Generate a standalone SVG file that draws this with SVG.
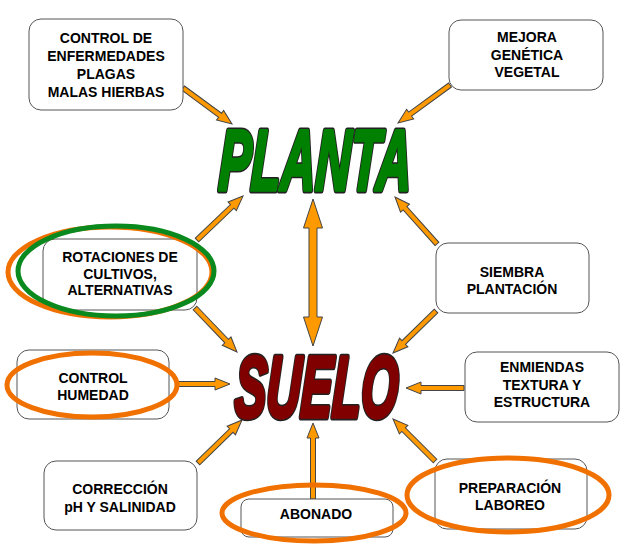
<svg xmlns="http://www.w3.org/2000/svg" width="640" height="545" viewBox="0 0 640 545">
<style>
.box{fill:#fff;stroke:#555;stroke-width:1}
.t{font-family:"Liberation Sans",Arial,sans-serif;font-weight:bold;font-size:14px;fill:#000;text-anchor:middle}
.arr{fill:#FF9900;stroke:#444;stroke-width:1}
.ro{fill:none;stroke:#F07000;stroke-width:5}
.rg{fill:none;stroke:#0A8A1E;stroke-width:5}
.big{font-family:"Liberation Sans",Arial,sans-serif;font-weight:bold;font-style:italic;stroke-linejoin:round;vector-effect:non-scaling-stroke}
.ol{fill:#222;stroke:#222;stroke-width:5.5}
</style>
<rect width="640" height="545" fill="#fff"/>
<g id="connectors">
<path class="arr" transform="translate(183,88) rotate(36.3)" d="M0,-2.5H46V-6L60.8,0L46,6V2.5H0Z"/>
<path class="arr" transform="translate(450,85) rotate(143.8)" d="M0,-2.5H49.4V-6L64.4,0L49.4,6V2.5H0Z"/>
<path class="arr" transform="translate(197,240) rotate(-43.7)" d="M0,-2.5H48.7V-6L63.7,0L48.7,6V2.5H0Z"/>
<path class="arr" transform="translate(195,308) rotate(46.3)" d="M0,-2.5H45.8V-6L60.8,0L45.8,6V2.5H0Z"/>
<path class="arr" d="M313,199L322.5,228H317V317H322.5L313,346L303.5,317H309V228H303.5Z"/>
<path class="arr" transform="translate(437,244) rotate(-131.8)" d="M0,-2.5H48V-6L63,0L48,6V2.5H0Z"/>
<path class="arr" transform="translate(436,311) rotate(135.7)" d="M0,-2.5H45.1V-6L60.1,0L45.1,6V2.5H0Z"/>
<path class="arr" transform="translate(177,384)" d="M0,-2.5H38V-6L53,0L38,6V2.5H0Z"/>
<path class="arr" transform="translate(464,388) rotate(180)" d="M0,-2.5H43V-6L58,0L43,6V2.5H0Z"/>
<path class="arr" transform="translate(198,463) rotate(-44.3)" d="M0,-2.5H46.5V-6L61.5,0L46.5,6V2.5H0Z"/>
<path class="arr" transform="translate(313,499) rotate(-90)" d="M0,-2.5H61V-6L76,0L61,6V2.5H0Z"/>
<path class="arr" transform="translate(435,461) rotate(-135)" d="M0,-2.5H44.4V-6L59.4,0L44.4,6V2.5H0Z"/>
</g>
<g id="planta" transform="translate(218,190) skewX(-2.5) scale(0.562,1)">
<text class="big ol" x="0" y="0" font-size="86">PLANTA</text>
<text class="big" x="0" y="0" font-size="86" fill="#008000" stroke="#008000" stroke-width="3">PLANTA</text>
</g>
<g id="suelo" transform="translate(234,417) skewX(-2.5) scale(0.544,1)">
<text class="big ol" x="0" y="0" font-size="87">SUELO</text>
<text class="big" x="0" y="0" font-size="87" fill="#800000" stroke="#800000" stroke-width="3">SUELO</text>
</g>
<g id="n-control-enf">
<rect class="box" x="29" y="19" width="154" height="91" rx="12" stroke="#333"/>
<text class="t" x="106" y="43">CONTROL DE</text>
<text class="t" x="106" y="61">ENFERMEDADES</text>
<text class="t" x="106" y="79">PLAGAS</text>
<text class="t" x="106" y="97">MALAS HIERBAS</text>
</g>
<g id="n-mejora">
<rect class="box" x="449" y="20" width="154" height="70" rx="12" stroke="#333"/>
<text class="t" x="527" y="42">MEJORA</text>
<text class="t" x="527" y="60">GENÉTICA</text>
<text class="t" x="527" y="77">VEGETAL</text>
</g>
<g id="n-rotaciones">
<rect class="box" x="43" y="239" width="154" height="71" rx="12"/>
<text class="t" x="120" y="262">ROTACIONES DE</text>
<text class="t" x="120" y="279">CULTIVOS,</text>
<text class="t" x="120" y="295">ALTERNATIVAS</text>
<ellipse class="ro" cx="110" cy="272" rx="102" ry="45"/>
<ellipse class="rg" cx="116" cy="271" rx="98" ry="45"/>
</g>
<g id="n-humedad">
<rect class="box" x="17" y="350" width="152" height="69" rx="12"/>
<text class="t" x="93" y="383">CONTROL</text>
<text class="t" x="93" y="400">HUMEDAD</text>
<ellipse class="ro" cx="92" cy="385" rx="85" ry="32"/>
</g>
<g id="n-siembra">
<rect class="box" x="436" y="243" width="153" height="70" rx="12"/>
<text class="t" x="512" y="277">SIEMBRA</text>
<text class="t" x="512" y="294">PLANTACIÓN</text>
</g>
<g id="n-enmiendas">
<rect class="box" x="465" y="352" width="154" height="70" rx="12"/>
<text class="t" x="542" y="372">ENMIENDAS</text>
<text class="t" x="542" y="389.5">TEXTURA Y</text>
<text class="t" x="542" y="407">ESTRUCTURA</text>
</g>
<g id="n-correccion">
<rect class="box" x="44" y="461" width="153" height="69" rx="12"/>
<text class="t" x="120" y="494">CORRECCIÓN</text>
<text class="t" x="120" y="512">pH Y SALINIDAD</text>
</g>
<g id="n-abonado">
<rect class="box" x="241" y="499" width="152" height="38" rx="8"/>
<text class="t" x="316" y="519">ABONADO</text>
<ellipse class="ro" cx="314" cy="513" rx="92" ry="28"/>
</g>
<g id="n-preparacion">
<rect class="box" x="435" y="459" width="152" height="70" rx="12"/>
<text class="t" x="510" y="493">PREPARACIÓN</text>
<text class="t" x="510" y="510">LABOREO</text>
<ellipse class="ro" cx="508" cy="495" rx="101" ry="37"/>
</g>
</svg>
